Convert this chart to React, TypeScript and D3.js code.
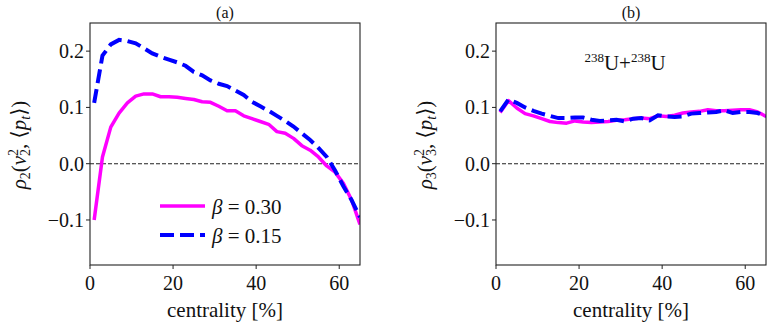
import React from 'react';
import * as d3 from 'd3';

const centrality = [1, 3, 5, 7, 9, 11, 13, 15, 17, 19, 21, 23, 25, 27, 29, 31, 33, 35, 37, 39, 41, 43, 45, 47, 49, 51, 53, 55, 57, 59, 61, 63, 65];

// panel (a): rho_2
const rho2Beta30 = [-0.100, 0.012, 0.065, 0.090, 0.108, 0.120, 0.124, 0.124, 0.119, 0.119, 0.118, 0.116, 0.114, 0.110, 0.109, 0.102, 0.094, 0.094, 0.085, 0.080, 0.075, 0.070, 0.057, 0.054, 0.045, 0.032, 0.024, 0.012, -0.004, -0.015, -0.035, -0.065, -0.108];
const rho2Beta15 = [0.108, 0.192, 0.212, 0.220, 0.218, 0.214, 0.205, 0.196, 0.190, 0.185, 0.180, 0.174, 0.163, 0.157, 0.148, 0.142, 0.138, 0.130, 0.122, 0.110, 0.102, 0.094, 0.085, 0.076, 0.066, 0.054, 0.042, 0.028, 0.012, -0.012, -0.040, -0.065, -0.095];

// panel (b): rho_3
const rho3Beta30 = [0.091, 0.112, 0.099, 0.089, 0.085, 0.080, 0.075, 0.073, 0.072, 0.076, 0.074, 0.073, 0.074, 0.075, 0.077, 0.078, 0.080, 0.081, 0.080, 0.085, 0.084, 0.086, 0.090, 0.092, 0.093, 0.096, 0.094, 0.094, 0.095, 0.096, 0.096, 0.092, 0.084];
const rho3Beta15 = [0.093, 0.114, 0.108, 0.100, 0.094, 0.089, 0.085, 0.081, 0.081, 0.082, 0.082, 0.078, 0.076, 0.077, 0.078, 0.075, 0.080, 0.081, 0.077, 0.086, 0.084, 0.083, 0.084, 0.089, 0.090, 0.091, 0.092, 0.095, 0.090, 0.092, 0.092, 0.090, 0.084];

const xTicks = [0, 20, 40, 60];
const yTicks = [-0.1, 0.0, 0.1, 0.2];
const legendLabels = ['β = 0.30', 'β = 0.15'];

const FONT = "'Liberation Serif', 'DejaVu Serif', serif";
const MAGENTA = '#ff00ff';
const BLUE = '#0000ff';

const top = 23;
const bottom = 265;
const y = d3.scaleLinear().domain([-0.18, 0.25]).range([bottom, top]);

type PanelProps = {
  left: number;
  title: string;
  n: string;
  s30: number[];
  s15: number[];
  legend?: boolean;
  note?: boolean;
};

const Panel = ({ left, title, n, s30, s15, legend, note }: PanelProps) => {
  const x = d3.scaleLinear().domain([0, 65]).range([left, left + 270]);
  const line = d3.line<number>()
    .x((_, i) => x(centrality[i]))
    .y(d => y(d));
  const clipId = `clip-${n}`;
  const cx = (x.range()[0] + x.range()[1]) / 2;

  return (
    <g fill="#111">
      <defs>
        <clipPath id={clipId}>
          <rect x={left} y={top} width={270} height={bottom - top} />
        </clipPath>
      </defs>

      <text x={cx} y={18} textAnchor="middle" fontSize={16}>{title}</text>

      <line x1={left} x2={left + 270} y1={y(0)} y2={y(0)} stroke="#222" strokeWidth={1.1} strokeDasharray="4 2" />

      <g clipPath={`url(#${clipId})`} fill="none">
        <path d={line(s30) || ''} stroke={MAGENTA} strokeWidth={3.5} strokeLinejoin="round" />
        <path d={line(s15) || ''} stroke={BLUE} strokeWidth={4} strokeDasharray="14 6" />
      </g>

      <rect x={left} y={top} width={270} height={bottom - top} fill="none" stroke="#222" strokeWidth={1.1} />

      {xTicks.map(t => (
        <g key={t}>
          <line x1={x(t)} x2={x(t)} y1={bottom} y2={bottom + 4} stroke="#222" />
          <text x={x(t)} y={290} textAnchor="middle" fontSize={20}>{t}</text>
        </g>
      ))}
      {yTicks.map(t => (
        <g key={t}>
          <line x1={left - 4} x2={left} y1={y(t)} y2={y(t)} stroke="#222" />
          <text x={left - 6} y={y(t) + 7} textAnchor="end" fontSize={20}>
            {t < 0 ? '\u2212' + Math.abs(t).toFixed(1) : t.toFixed(1)}
          </text>
        </g>
      ))}

      <text x={cx} y={317} textAnchor="middle" fontSize={21}>centrality [%]</text>

      <text transform={`translate(${left - 64},145) rotate(-90)`} textAnchor="middle" fontSize={21}>
        <tspan fontStyle="italic">ρ</tspan>
        <tspan fontSize={14} dy={4}>{n}</tspan>
        <tspan dy={-4}>(</tspan>
        <tspan fontStyle="italic">v</tspan>
        <tspan fontSize={14} dy={-8}>2</tspan>
        <tspan fontSize={14} dx={-7} dy={12}>{n}</tspan>
        <tspan dy={-4}>, ⟨</tspan>
        <tspan fontStyle="italic">p</tspan>
        <tspan fontSize={14} fontStyle="italic" dy={4}>t</tspan>
        <tspan dy={-4}>⟩)</tspan>
      </text>

      {legend && (
        <g>
          {legendLabels.map((lab, i) => (
            <g key={lab}>
              <line x1={160} x2={205} y1={206 + i * 29} y2={206 + i * 29}
                stroke={i === 0 ? MAGENTA : BLUE} strokeWidth={i === 0 ? 3.5 : 4}
                strokeDasharray={i === 0 ? undefined : '14 6'} />
              <text x={212} y={214 + i * 29} fontSize={21}>
                <tspan fontStyle="italic">β</tspan>{lab.slice(1)}
              </text>
            </g>
          ))}
        </g>
      )}

      {note && (
        <text x={625} y={70} textAnchor="middle" fontSize={21}>
          <tspan fontSize={13} dy={-8}>238</tspan>
          <tspan dy={8}>U+</tspan>
          <tspan fontSize={13} dy={-8}>238</tspan>
          <tspan dy={8}>U</tspan>
        </text>
      )}
    </g>
  );
};

const App = () => (
  <svg width={773} height={326} style={{ position: 'absolute', left: 0, top: 0, background: '#fff', fontFamily: FONT }}>
    <Panel left={90} title="(a)" n="2" s30={rho2Beta30} s15={rho2Beta15} legend />
    <Panel left={496} title="(b)" n="3" s30={rho3Beta30} s15={rho3Beta15} note />
  </svg>
);

export default App;
